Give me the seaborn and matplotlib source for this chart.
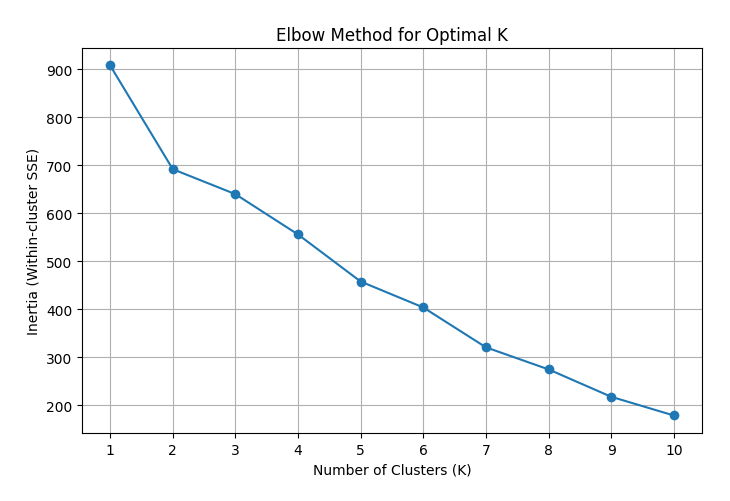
import matplotlib
matplotlib.use("Agg")
import matplotlib.pyplot as plt
import seaborn as sns
import pandas as pd

k_values = [1, 2, 3, 4, 5, 6, 7, 8, 9, 10]
inertia = [908, 692, 640, 556, 458, 404, 321, 275, 218, 179]

df = pd.DataFrame({"K": k_values, "Inertia": inertia})

fig, ax = plt.subplots(figsize=(7.3, 5.02), dpi=100)
sns.lineplot(data=df, x="K", y="Inertia", marker="o", markersize=7,
             markeredgewidth=0, color="#1f77b4", ax=ax)
ax.set_xticks(k_values)
ax.set_title("Elbow Method for Optimal K")
ax.set_xlabel("Number of Clusters (K)")
ax.set_ylabel("Inertia (Within-cluster SSE)")
ax.grid(True)
fig.subplots_adjust(left=0.1123, right=0.9616, top=0.9024, bottom=0.1355)
fig.savefig("out.png", dpi=100)
